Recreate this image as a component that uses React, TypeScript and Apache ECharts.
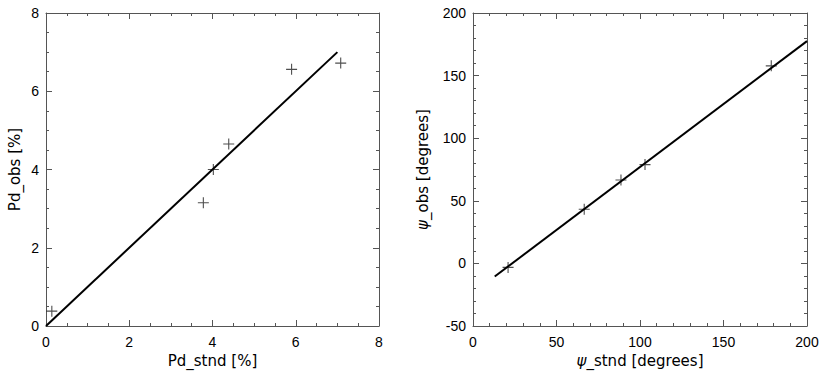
import React, { useEffect, useRef } from "react";
import * as echarts from "echarts";

const pdStnd = [0.14, 3.78, 4.02, 4.39, 5.9, 7.08];
const pdObs = [0.38, 3.15, 4.0, 4.65, 6.56, 6.72];
const pdLineX = [0, 7];
const pdLineY = [0, 7];

const psiStnd = [21, 66.6, 88.6, 103, 178.6];
const psiObs = [-3.2, 43.2, 66.6, 78.9, 157.8];
const psiLineX = [13, 200];
const psiLineY = [-10.5, 177.5];

const LABEL_FONT = "'Liberation Sans Narrow', 'Liberation Sans', Arial, sans-serif";
const NAME_FONT = "'DejaVu Sans', 'Liberation Sans', sans-serif";
const AXIS_COLOR = "#555";
const PLUS = "path://M0,4.5H4.5V0H5.5V4.5H10V5.5H5.5V10H4.5V5.5H0Z";

function axisBase(min: number, max: number, interval: number, minorSplit: number) {
  return {
    type: "value",
    min,
    max,
    interval,
    axisLine: { show: true, onZero: false, lineStyle: { color: AXIS_COLOR, width: 1 } },
    axisTick: { show: true, inside: true, length: 6, lineStyle: { color: AXIS_COLOR } },
    minorTick: { show: true, splitNumber: minorSplit, length: 3, lineStyle: { color: AXIS_COLOR } },
    splitLine: { show: false },
    minorSplitLine: { show: false },
  };
}

function labelStyle(margin: number) {
  return { show: true, color: "#000", fontSize: 14, fontFamily: LABEL_FONT, margin };
}

const nameStyle = {
  color: "#000",
  fontSize: 15,
  fontFamily: NAME_FONT,
  rich: { i: { fontStyle: "italic", fontSize: 15, fontFamily: NAME_FONT, color: "#000" } },
};

export default function App() {
  const ref = useRef<HTMLDivElement>(null);
  useEffect(() => {
    document.body.style.margin = "0";
    if (!ref.current) return;
    const chart = echarts.init(ref.current, undefined, { renderer: "svg" });
    const option: any = {
      animation: false,
      backgroundColor: "#fff",
      grid: [
        { left: 46, top: 13, width: 333, height: 313 },
        { left: 473, top: 13, width: 334, height: 313 },
      ],
      xAxis: [
        {
          ...axisBase(0, 8, 2, 4),
          gridIndex: 0,
          position: "bottom",
          axisLabel: labelStyle(9),
          name: "Pd_stnd [%]",
          nameLocation: "middle",
          nameGap: 23,
          nameTextStyle: nameStyle,
        },
        { ...axisBase(0, 8, 2, 4), gridIndex: 0, position: "top", axisLabel: { show: false } },
        {
          ...axisBase(0, 200, 50, 5),
          gridIndex: 1,
          position: "bottom",
          axisLabel: labelStyle(9),
          name: "{i|ψ}_stnd [degrees]",
          nameLocation: "middle",
          nameGap: 23,
          nameTextStyle: nameStyle,
        },
        { ...axisBase(0, 200, 50, 5), gridIndex: 1, position: "top", axisLabel: { show: false } },
      ],
      yAxis: [
        {
          ...axisBase(0, 8, 2, 4),
          gridIndex: 0,
          position: "left",
          axisLabel: labelStyle(7),
          name: "Pd_obs [%]",
          nameLocation: "middle",
          nameGap: 24,
          nameTextStyle: nameStyle,
        },
        { ...axisBase(0, 8, 2, 4), gridIndex: 0, position: "right", axisLabel: { show: false } },
        {
          ...axisBase(-50, 200, 50, 5),
          gridIndex: 1,
          position: "left",
          axisLabel: labelStyle(7),
          name: "{i|ψ}_obs [degrees]",
          nameLocation: "middle",
          nameGap: 43,
          nameTextStyle: nameStyle,
        },
        { ...axisBase(-50, 200, 50, 5), gridIndex: 1, position: "right", axisLabel: { show: false } },
      ],
      series: [
        {
          type: "line",
          xAxisIndex: 0,
          yAxisIndex: 0,
          data: pdLineX.map((x, i) => [x, pdLineY[i]]),
          showSymbol: false,
          symbol: "none",
          lineStyle: { color: "#000", width: 2 },
          silent: true,
        },
        {
          type: "scatter",
          xAxisIndex: 0,
          yAxisIndex: 0,
          data: pdStnd.map((x, i) => [x, pdObs[i]]),
          symbol: PLUS,
          symbolSize: 11,
          itemStyle: { color: "#222" },
        },
        {
          type: "line",
          xAxisIndex: 2,
          yAxisIndex: 2,
          data: psiLineX.map((x, i) => [x, psiLineY[i]]),
          showSymbol: false,
          symbol: "none",
          lineStyle: { color: "#000", width: 2 },
          silent: true,
        },
        {
          type: "scatter",
          xAxisIndex: 2,
          yAxisIndex: 2,
          data: psiStnd.map((x, i) => [x, psiObs[i]]),
          symbol: PLUS,
          symbolSize: 11,
          itemStyle: { color: "#222" },
        },
      ],
    };
    chart.setOption(option);
    return () => chart.dispose();
  }, []);
  return <div ref={ref} style={{ width: 830, height: 378 }} />;
}
